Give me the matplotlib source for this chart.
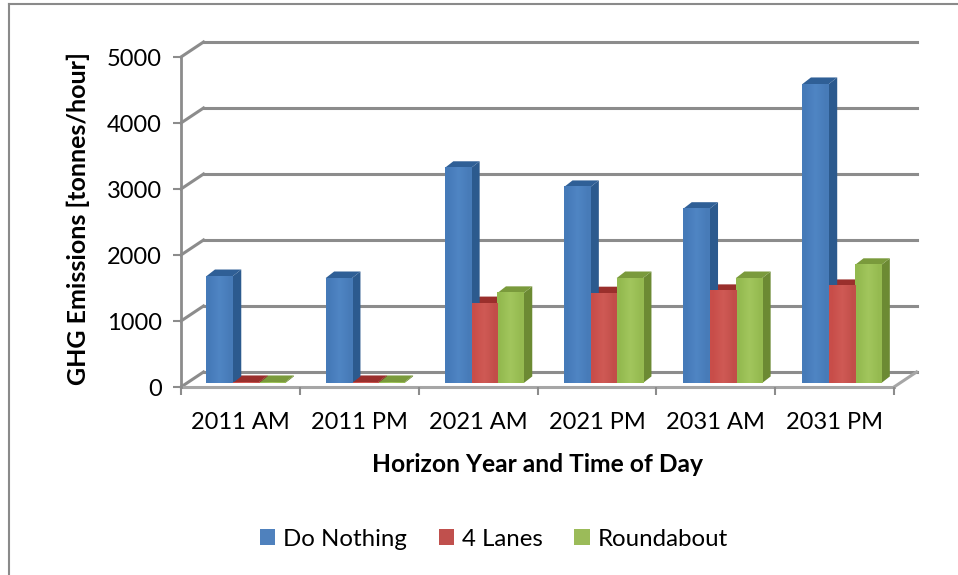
import matplotlib
matplotlib.use("Agg")
import matplotlib.pyplot as plt
from matplotlib.colors import LinearSegmentedColormap
from matplotlib.patches import Patch, Polygon

plt.rcParams["font.family"] = ["Lato", "DejaVu Sans"]

categories = ["2011 AM", "2011 PM", "2021 AM", "2021 PM", "2031 AM", "2031 PM"]
do_nothing = [1620, 1590, 3260, 2970, 2640, 4530]
four_lanes = [15, 15, 1210, 1360, 1395, 1470]
roundabout = [15, 15, 1365, 1590, 1590, 1790]
series_names = ["Do Nothing", "4 Lanes", "Roundabout"]
y_ticks = [0, 1000, 2000, 3000, 4000, 5000]

# legend, side and top face colours for each series
colors = [
    ("#4F81BD", "#2C5A8E", "#2F5F96"),
    ("#C0504D", "#8E2F2C", "#9A2F2C"),
    ("#9BBB59", "#6C8A33", "#7A9A3C"),
]
# bar fronts are a little lighter down the middle
front_ramps = [
    ["#457AB8", "#4F85C4", "#477BB8"],
    ["#C84D49", "#CF5A55", "#C24E49"],
    ["#93B94F", "#A2C65D", "#95BA50"],
]
grid_color = "#8C8C8C"
floor_color = "#A6A6A6"

# depth of the floor and of the bars, in data units
cat_px = 118.8
depth_x = 22.5 / cat_px
depth_y = 227
bar_dx = 8.5 / cat_px
bar_dy = 100
start_dx = 5.5 / cat_px
start_dy = 60
bar_width = 26.3 / cat_px
group_step = 1.003

fig = plt.figure(figsize=(9.58, 5.75), dpi=100)
ax = fig.add_axes([181 / 958, (575 - 387) / 575, 713 / 958, 330 / 575])
ax.patch.set_visible(False)
for side in ax.spines.values():
    side.set_visible(False)

n = len(categories)

# gridlines on the back wall and the slanted side wall
for v in y_ticks:
    ax.plot([depth_x, n + depth_x], [v + depth_y, v + depth_y],
            color=grid_color, lw=2.2, clip_on=False, zorder=1)
    ax.plot([0, depth_x], [v, v + depth_y], color=grid_color, lw=2.2,
            clip_on=False, zorder=1)

# floor edges
ax.plot([0, n], [0, 0], color=floor_color, lw=2.2, clip_on=False, zorder=1)
ax.plot([n, n + depth_x], [0, depth_y], color=floor_color, lw=2.2, clip_on=False, zorder=1)
ax.plot([0, 0], [0, 5000], color=grid_color, lw=2, clip_on=False, zorder=1)

all_series = [do_nothing, four_lanes, roundabout]
group_start = (1 - 3 * bar_width) / 2 + start_dx

# draw right to left inside each group so the front faces overlap the sides
for i in range(n):
    for s in [2, 1, 0]:
        value = all_series[s][i]
        _, dark, top = colors[s]
        x0 = i * group_step + group_start + s * bar_width
        x1 = x0 + bar_width
        ax.add_patch(Polygon([(x1, start_dy), (x1 + bar_dx, start_dy + bar_dy),
                              (x1 + bar_dx, start_dy + value + bar_dy), (x1, start_dy + value)],
                             fc=dark, ec="none", clip_on=False, zorder=3))
        ax.add_patch(Polygon([(x0, start_dy + value), (x0 + bar_dx, start_dy + value + bar_dy),
                              (x1 + bar_dx, start_dy + value + bar_dy), (x1, start_dy + value)],
                             fc=top, ec="none", clip_on=False, zorder=3))
        cmap = LinearSegmentedColormap.from_list("front", front_ramps[s])
        ax.imshow([[0.0, 0.25, 0.5, 0.75, 1.0]], cmap=cmap, vmin=0, vmax=1, aspect="auto",
                  extent=(x0, x1, start_dy, start_dy + value), interpolation="bilinear",
                  clip_on=False, zorder=4 + 0.1 * (2 - s))

ax.set_xlim(0, n)
ax.set_ylim(0, 5000)

ax.set_xticks(range(n + 1))
ax.set_xticklabels([])
ax.set_xticks([i + 0.5 for i in range(n)], categories, minor=True)
ax.set_yticks(y_ticks)
ax.tick_params(axis="x", which="major", length=6, width=1.5, color=grid_color)
ax.tick_params(axis="x", which="minor", length=0, pad=18, labelsize=17)
ax.tick_params(axis="y", length=6, width=1.5, color=grid_color, pad=8, labelsize=17)

fig.text(78 / 958, 1 - 218 / 575, "GHG Emissions [tonnes/hour]", rotation=90,
         ha="center", va="center", fontsize=18, fontweight="bold")
fig.text(537 / 958, 1 - 464 / 575, "Horizon Year and Time of Day",
         ha="center", va="center", fontsize=17.7, fontweight="bold")

handles = [Patch(fc=colors[k][0], ec="none") for k in range(3)]
fig.legend(handles, series_names, loc="center", bbox_to_anchor=(494 / 958, 1 - 539 / 575),
           ncol=3, frameon=False, fontsize=17.3, handlelength=0.64, handleheight=0.64,
           handletextpad=0.34, columnspacing=1.3, borderpad=0, borderaxespad=0)

# chart frame
fig.add_artist(plt.Line2D([9 / 958, 9 / 958], [0, 1 - 4 / 575], color="#8A8A8A", lw=1.5))
fig.add_artist(plt.Line2D([9 / 958, 1], [1 - 4 / 575, 1 - 4 / 575], color="#8A8A8A", lw=1.5))

fig.savefig("out.png", dpi=100)
